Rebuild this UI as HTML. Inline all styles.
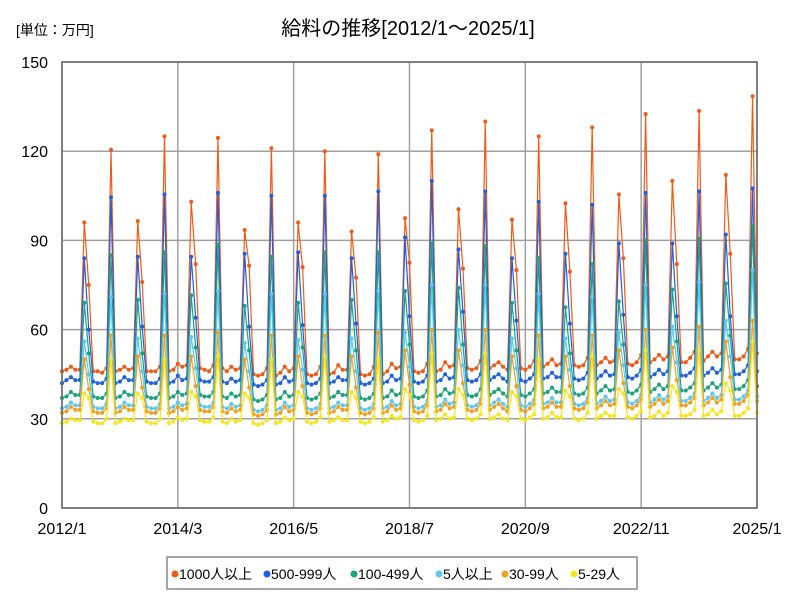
<!DOCTYPE html>
<html><head><meta charset="utf-8"><style>
body{margin:0;background:#fff;font-family:"Liberation Sans","Noto Sans CJK JP",sans-serif}
</style></head><body>
<svg id="chart" width="800" height="600" xmlns="http://www.w3.org/2000/svg" font-family="Liberation Sans, Noto Sans CJK JP, sans-serif">
<rect width="800" height="600" fill="#fff"/>
<text x="408" y="35" text-anchor="middle" font-size="20">給料の推移[2012/1～2025/1]</text>
<text x="16" y="35" font-size="14">[単位：万円]</text>
<g id="grid"></g><g id="series"></g><g id="axes"></g>
<g>
<rect x="167" y="557" width="470" height="32" fill="#fff" stroke="#888" stroke-width="1.5"/>
<g id="legend"></g></g>
</svg>
<script>
const seriesNames=["1000人以上","500-999人","100-499人","5人以上","30-99人","5-29人"];
const yTicks=[0,30,60,90,120,150];
const xTickLabels=["2012/1","2014/3","2016/5","2018/7","2020/9","2022/11","2025/1"];
const xTickIndex=[0,26,52,78,104,130,156];
const s1000=[46,46.5,47.5,46.5,46.5,96,75,46,46,45.5,47,120.5,
46,46.5,47.5,46.5,47,96.5,76,46,46,46,47.5,125,
46,46.5,48.5,47.5,48,103,82,47,46.5,46,48,124.5,
47,46,47.5,46.5,47,93.5,81.5,45,44.5,45,47,121,
44.5,45.5,47.5,46,47,96,81,45,44.5,45,47.5,120,
45,45.5,48,46.5,46.5,93,77.5,45,44.5,45,47.5,119,
45,46,48.5,47,47.5,97.5,82.5,46,45.5,46,48.5,127,
46,46.5,49,47.5,48,100.5,80.5,47,46.5,47,49.5,130,
47,48,49,47.5,46.5,97,80,47,46.5,47.5,49.5,125,
47.5,48.5,50,48,48.5,102.5,79.5,48,47.5,48,50.5,128,
48,49,50.5,49,49.5,105.5,84,48.5,48,49,51.5,132.5,
49,50,51.5,50,51,110,82,49,49,50.5,52.5,133.5,
49.5,51,52.5,51,52,112,85.5,50,50,51,53.5,138.5,52];
const s500=[42,43,44,43,43,84,60,42.5,42,42,43.5,104.5,
42,42.5,44,43,43,84.5,61,42.5,42,42,43.5,105.5,
42,42.5,44.5,43,43.5,84.5,64,43,42.5,42.5,44,106,
42.5,42,43.5,42.5,43,85.5,61,41.5,41,41.5,43,105,
41.5,42,44,42.5,43,86,61.5,42,41.5,42,43.5,105,
42,42.5,44,43,43,84,62,42,41.5,42,43.5,106.5,
42,42.5,44.5,43,43.5,91,64.5,42.5,42,42.5,44.5,110,
42.5,43,45,43.5,44,87,66,43,42.5,43,45,106.5,
43,44,45,43.5,42.5,84,63,43,42.5,43.5,45,103,
43.5,44,45.5,44,44,85.5,62,43.5,43,43.5,45.5,102,
43.5,44.5,46,44.5,45,89,65,44,43.5,44.5,46.5,106,
44,45,46.5,45,46,89,64.5,44.5,44.5,45.5,47,106.5,
44.5,45.5,47,45.5,46.5,92,64.5,45,45,46,48,107.5,46];
const s100=[37,37.5,39,38,38,69,52,37.5,37,37,38.5,85,
37,37.5,39,38,38,70,52,37.5,37,37,38.5,86,
37,37.5,39,38,38.5,71.5,54,38,37.5,37.5,39,88.5,
37.5,37,38.5,37.5,38,68,53,36.5,36,36.5,38,84.5,
36.5,37,39,37.5,38,69,54,37,36.5,37,38.5,86,
37,37.5,39,38,38,70,53,37,36.5,37,38.5,86,
37,37.5,39.5,38,38.5,73,55,37.5,37,37.5,39.5,89,
37.5,38,40,38.5,39,74,55,38,37.5,38,40,88,
38,39,40,38.5,37.5,69,53,38,37.5,38.5,40,84,
38.5,39,40.5,39,39,67.5,52,38.5,38,38.5,40.5,82,
38.5,39.5,41,39.5,40,69.5,55,39,38.5,39.5,41.5,90,
39,40,41.5,40,41,73.5,56,39.5,39.5,40.5,42,90.5,
39.5,40.5,42,40.5,41.5,75.5,58,40,40,41,43,95,41];
const s5plus=[33.5,34,35.5,34.5,34.5,56,45,34,33.5,33.5,35,71,
33.5,34,35.5,34.5,34.5,57,46,34,33.5,33.5,35,72,
33.5,34,35.5,34.5,35,57.5,47,34.5,34,34,35.5,73,
34,33.5,35,34,34.5,55.5,46,33,32.5,33,34.5,72,
33,33.5,35.5,34,34.5,56.5,46.5,33.5,33,33.5,35,72,
33.5,34,35.5,34.5,34.5,57,46,33.5,33,33.5,35,73,
33.5,34,36,34.5,35,59,47.5,34,33.5,34,36,75,
34,34.5,36.5,35,35.5,60,48,34.5,34,34.5,36.5,75,
34.5,35.5,36.5,35,34,57,47,34.5,34,35,36.5,72,
35,35.5,37,35.5,35.5,57,46.5,35,34.5,35,37,71,
35,36,37.5,36,36.5,59,48,35.5,35,36,38,75,
35.5,36.5,38,36.5,37.5,61,49,36,36,37,38.5,76,
36,37,38.5,37,38,63,51,36.5,36.5,37.5,39.5,80,37.5];
const s30=[32,32.5,34,33,33,50,40,32.5,32,32,33.5,58,
32,32.5,34,33,33,51,40.5,32.5,32,32,33.5,58,
32,32.5,34,33,33.5,51,41,33,32.5,32.5,34,59,
32.5,32,33.5,32.5,33,50,40.5,31.5,31,31.5,33,58,
31.5,32,34,32.5,33,51,41,32,31.5,32,33.5,58,
32,32.5,34,33,33,51,40.5,32,31.5,32,33.5,59,
32,32.5,34.5,33,33.5,53,41.5,32.5,32,32.5,34.5,60,
32.5,33,35,33.5,34,53,42,33,32.5,33,35,60,
33,34,35,33.5,32.5,51,41,33,32.5,33.5,35,58,
33.5,34,35.5,34,34,51,41,33.5,33,33.5,35.5,58,
33.5,34.5,36,34.5,35,53,42,34,33.5,34.5,36.5,60,
34,35,36.5,35,36,54,43,34.5,34.5,35.5,37,61,
34.5,35.5,37,35.5,36.5,56,44,35,35,36,38,63,36];
const s5=[28.5,29,30,29.5,29.5,38.5,37,29,28.5,28.5,30,50,
28.5,29,30,29.5,29.5,38.5,37,29,28.5,28.5,30,50,
28.5,29,30.5,29.5,30,39,37.5,29.5,29,29,30.5,51,
29,28.5,30,29,29.5,38.5,37,28.5,28,28.5,29.5,50,
28.5,29,30.5,29.5,30,39,37.5,29,28.5,29,30.5,51,
29,29.5,30.5,29.5,29.5,39,37,29,28.5,29,30.5,50,
29,29.5,31,30,30.5,40,38,29.5,29,29.5,31,52,
29.5,30,31.5,30,30.5,40,38,30,29.5,30,31.5,52,
30,30.5,31.5,30,29.5,39,37.5,30,29.5,30.5,31.5,50,
30,30.5,32,30.5,30.5,39.5,37.5,30,29.5,30,32,51,
30,31,32,31,31,40,38.5,30.5,30,31,32.5,53,
30.5,31,32.5,31,32,41,39,31,31,31.5,33,53,
31,31.5,33,31.5,32.5,42,39.5,31,31,32,33.5,56,32];
const allSeries=[s1000,s500,s100,s5plus,s30,s5];
const colors=["#f05a14","#1f5fe0","#1aa37a","#5bc8f0","#f0a020","#f5e61e"];
const L=62,R=757,T=62,B=508,N=156,YMAX=150;
const x=i=>L+(R-L)*i/N, y=v=>B-(B-T)*v/YMAX;
const NS="http://www.w3.org/2000/svg";
function mk(tag,attrs,parent){const e=document.createElementNS(NS,tag);for(const k in attrs)e.setAttribute(k,attrs[k]);parent.appendChild(e);return e;}
const grid=document.getElementById('grid'),axes=document.getElementById('axes'),ser=document.getElementById('series'),leg=document.getElementById('legend');
yTicks.forEach(v=>{
 const l=mk('line',{x1:L,x2:R,y1:y(v),y2:y(v),stroke:'#a0a0a0','stroke-width':1.5},grid);
 
 
 const t=mk('text',{x:L-14,y:y(v)+6,'text-anchor':'end','font-size':16},axes);t.textContent=v;
 
 
});
xTickIndex.forEach((i,k)=>{
 const l=mk('line',{x1:x(i),x2:x(i),y1:T,y2:B,stroke:'#a0a0a0','stroke-width':1.5},grid);
 
 
 const t=mk('text',{x:x(i),y:B+26,'text-anchor':'middle','font-size':16},axes);t.textContent=xTickLabels[k];
 
 
});
const fr=mk('rect',{x:L,y:T,width:R-L,height:B-T,fill:'none',stroke:'#666','stroke-width':1.5},axes);


allSeries.forEach((s,k)=>{
 const g=mk('g',{},ser);
 
 
 const p=mk('polyline',{points:s.map((v,i)=>x(i)+','+y(v)).join(' '),fill:'none',stroke:colors[k],'stroke-width':1.2},g);
 
 
 s.forEach((v,i)=>{const c=mk('circle',{cx:x(i),cy:y(v),r:2,fill:colors[k]},g);
  
  });
});
const legendX=[175,267,354,439,505,574];
seriesNames.forEach((n,k)=>{
 const g=mk('g',{},leg);
 
 
 const xs=legendX[k];
 mk('circle',{cx:xs,cy:574,r:3.5,fill:colors[k]},g);
 const t=mk('text',{x:xs+4,y:579,'font-size':14},g);t.textContent=n;
});
</script>
</body></html>
